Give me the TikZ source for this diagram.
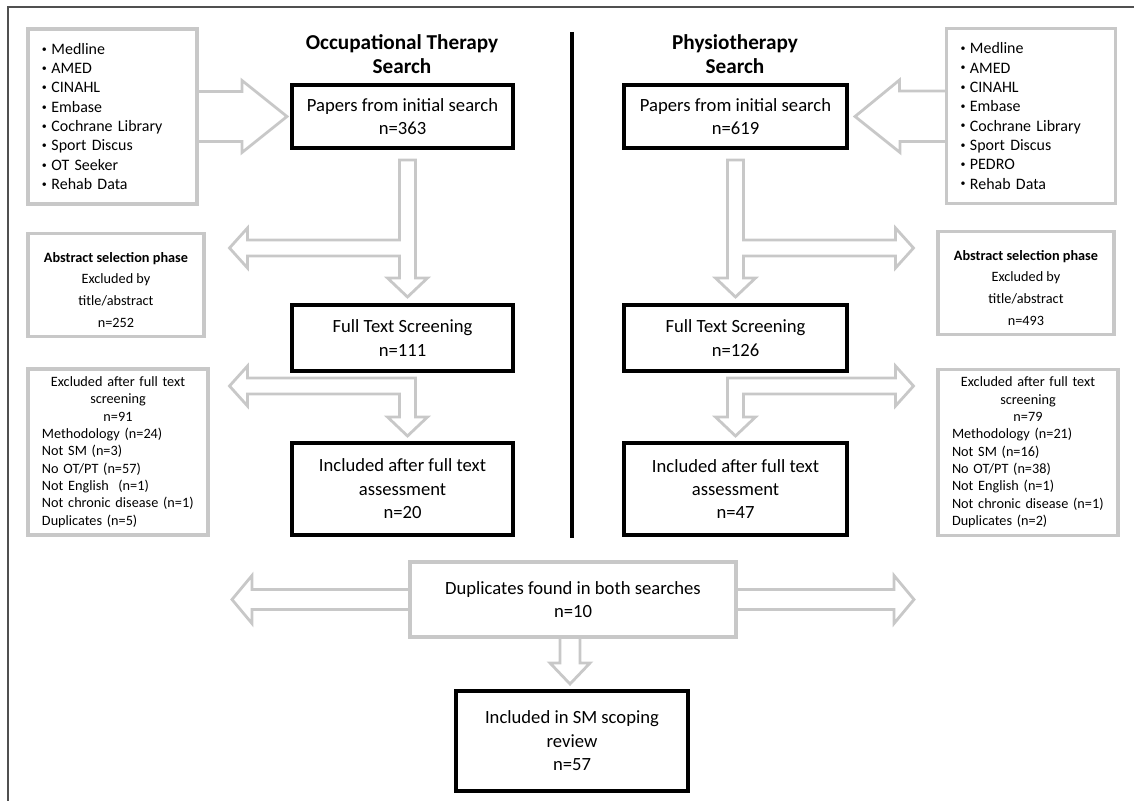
\documentclass[tikz,border=0pt]{standalone}
\usepackage{fontspec}
\setmainfont{Carlito}
\usepackage{tikz}
\usetikzlibrary{backgrounds}
\definecolor{boxgray}{RGB}{200,200,200}
\definecolor{framegray}{RGB}{80,80,80}
\newcommand{\dbitem}{\raisebox{2.2bp}{\fontsize{10}{10}\selectfont\textbullet}\hspace{4.5bp}}

\begin{document}
\begin{tikzpicture}[x=1bp,y=-1bp,
  every node/.style={inner sep=0pt, outer sep=0pt, align=center},
  mainbox/.style={draw=black, line width=3.2bp, fill=white, font=\fontsize{18.7}{23.5}\selectfont},
  sidebox/.style={draw=boxgray, line width=3.2bp, fill=white},
  listbox/.style={sidebox, minimum width=169bp, minimum height=175bp, text width=141bp, align=left, font=\fontsize{16}{19.4}\selectfont},
  abstbox/.style={sidebox, minimum width=176bp, minimum height=103bp, font=\fontsize{14.3}{22}\selectfont},
  exclbox/.style={sidebox, minimum width=180bp, minimum height=166bp, text width=152bp, align=left, font=\fontsize{14.3}{17.4}\selectfont},
  heading/.style={font=\bfseries\fontsize{21.3}{24}\selectfont},
  blockarr/.style={draw=boxgray, line width=2.8bp, fill=white, line join=miter}]
\useasboundingbox (0,0) rectangle (1134,801);

% frame and divider
\draw[framegray, line width=2.7bp] (8,801) -- (8,7) -- (1134,7);
\draw[line width=3.5bp] (572,32) -- (572,538);

% headings
\node[heading] (ottitle) at (402,54) {Occupational Therapy\\Search};
\node[heading] (pttitle) at (735,54) {Physiotherapy\\Search};

% databases
\node[listbox] (otdb) at (112.5,116.5) {\dbitem Medline\\\dbitem AMED\\\dbitem CINAHL\\\dbitem Embase\\\dbitem Cochrane Library\\\dbitem Sport Discus\\\dbitem OT Seeker\\\dbitem Rehab Data};
\node[listbox] (ptdb) at (1031,116) {\dbitem Medline\\\dbitem AMED\\\dbitem CINAHL\\\dbitem Embase\\\dbitem Cochrane Library\\\dbitem Sport Discus\\\dbitem PEDRO\\\dbitem Rehab Data};

% main column boxes
\node[mainbox, minimum width=221bp, minimum height=63bp] (otinit) at (402.5,116.5) {Papers from initial search\\n=363};
\node[mainbox, minimum width=223bp, minimum height=63bp] (ptinit) at (735.5,116.5) {Papers from initial search\\n=619};
\node[mainbox, minimum width=221bp, minimum height=66bp] (otfull) at (402.5,338) {Full Text Screening\\n=111};
\node[mainbox, minimum width=223bp, minimum height=66bp] (ptfull) at (735.5,338) {Full Text Screening\\n=126};
\node[mainbox, minimum width=221bp, minimum height=92bp] (otincl) at (402.5,489) {Included after full text\\assessment\\n=20};
\node[mainbox, minimum width=223bp, minimum height=92bp] (ptincl) at (735.5,489) {Included after full text\\assessment\\n=47};

% excluded boxes
\node[abstbox] (otabs) at (116,285) {\rule{0pt}{20bp}\textbf{Abstract selection phase}\\Excluded by\\title/abstract\\n=252};
\node[abstbox] (ptabs) at (1026,283) {\rule{0pt}{20bp}\textbf{Abstract selection phase}\\Excluded by\\title/abstract\\n=493};
\node[exclbox] (otexcl) at (118,452) {\centering Excluded after full text\\screening\\n=91\par\raggedright Methodology (n=24)\\Not SM (n=3)\\No OT/PT (n=57)\\Not English~ (n=1)\\Not chronic disease (n=1)\\Duplicates (n=5)};
\node[exclbox] (ptexcl) at (1028,452.5) {\centering Excluded after full text\\screening\\n=79\par\raggedright Methodology (n=21)\\Not SM (n=16)\\No OT/PT (n=38)\\Not English (n=1)\\Not chronic disease (n=1)\\Duplicates (n=2)};

% merged results
\node[sidebox, minimum width=326bp, minimum height=75bp, font=\fontsize{18.7}{23.5}\selectfont] (dup) at (573,599.5) {Duplicates found in both searches\\n=10};
\node[mainbox, minimum width=232bp, minimum height=100bp] (final) at (572,741) {Included in SM scoping\\review\\n=57};

\begin{pgfonlayer}{background}
% database arrows
\draw[blockarr] ([yshift=25bp]otdb.east) -- ++(45,0) -- ++(0,-11) -- ([xshift=-5bp]otinit.west) -- ++(-45,36) -- ++(0,-11) -- ++(-45,0) -- cycle;
\draw[blockarr] ([yshift=25bp]ptdb.west) -- ++(-47,0) -- ++(0,-11) -- ([xshift=8bp]ptinit.east) -- ++(45,36) -- ++(0,-11) -- ++(47,0) -- cycle;
% abstract phase arrows
\draw[blockarr] ([xshift=-3bp,yshift=-12bp]otinit.south) -- ++(16,0) -- ++(0,118) -- ++(12,0) -- ++(-20,19) -- ++(-20,-19) -- ++(12,0) -- ++(0,-22) -- ++(-152,0) -- ++(0,12) -- ++(-18,-20) -- ++(18,-20) -- ++(0,12) -- ++(152,0) -- cycle;
\draw[blockarr] ([xshift=-8bp,yshift=-12bp]ptinit.south) -- ++(16,0) -- ++(0,80) -- ++(152,0) -- ++(0,-12) -- ++(18,20) -- ++(-18,20) -- ++(0,-12) -- ++(-152,0) -- ++(0,22) -- ++(12,0) -- ++(-20,19) -- ++(-20,-19) -- ++(12,0) -- cycle;
% full text arrows
\draw[blockarr] ([xshift=13bp,yshift=-7bp]otfull.south) -- ++(0,39) -- ++(12,0) -- ++(-20,19) -- ++(-20,-19) -- ++(12,0) -- ++(0,-23) -- ++(-152,0) -- ++(0,12) -- ++(-18,-20) -- ++(18,-20) -- ++(0,12) -- cycle;
\draw[blockarr] ([xshift=-8bp,yshift=-7bp]ptfull.south) -- ++(0,39) -- ++(-12,0) -- ++(20,19) -- ++(20,-19) -- ++(-12,0) -- ++(0,-23) -- ++(152,0) -- ++(0,12) -- ++(18,-20) -- ++(-18,-20) -- ++(0,12) -- cycle;
% duplicates arrows
\draw[blockarr] ([yshift=10bp]dup.west) -- ++(-158,0) -- ++(0,-14) -- ++(-20,24) -- ++(20,24) -- ++(0,-14) -- ++(158,0) -- ++(326,0) -- ++(158,0) -- ++(0,14) -- ++(20,-24) -- ++(-20,-24) -- ++(0,14) -- cycle;
\draw[blockarr] ([xshift=-13bp]dup.south) -- ++(0,26) -- ++(-10,0) -- ++(20,21) -- ++(20,-21) -- ++(-10,0) -- ++(0,-26) -- cycle;
\end{pgfonlayer}
\end{tikzpicture}
\end{document}
